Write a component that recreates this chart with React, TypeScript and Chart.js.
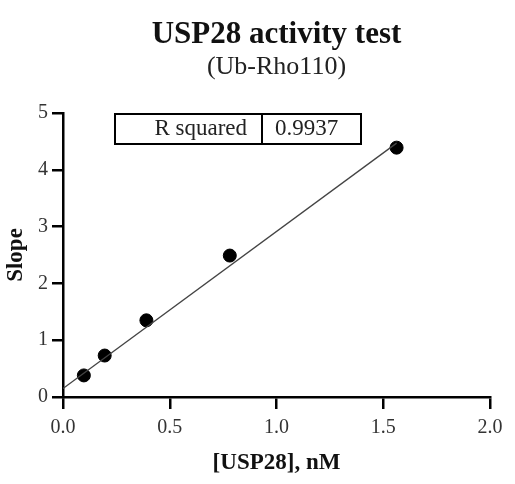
import { useEffect, useRef } from 'react'
import Chart from 'chart.js/auto'

const concentrations = [0.0977, 0.1953, 0.3906, 0.7813, 1.5625]
const slopes = [0.38, 0.73, 1.35, 2.49, 4.39]
const fitX = [0, 1.5625]
const fitY = [0.15, 4.47]
const xTicks = [0, 0.5, 1.0, 1.5, 2.0]
const yTicks = [0, 1, 2, 3, 4, 5]
const rSquared = '0.9937'

const SERIF = '"Liberation Serif", "Times New Roman", serif'

export default function App() {
  const chartRef = useRef<HTMLCanvasElement>(null)

  useEffect(() => {
    document.body.style.margin = '0'
    if (!chartRef.current) return

    // title, subtitle and the R squared box
    const extras = {
      id: 'extras',
      afterDraw(chart: any) {
        const { ctx, chartArea } = chart
        const cx = (chartArea.left + chartArea.right) / 2
        ctx.save()
        ctx.fillStyle = '#111'
        ctx.textAlign = 'center'
        ctx.textBaseline = 'alphabetic'
        ctx.font = `bold 31px ${SERIF}`
        ctx.fillText('USP28 activity test', cx, 43)
        ctx.fillStyle = '#222'
        ctx.font = `26px ${SERIF}`
        ctx.fillText('(Ub-Rho110)', cx, 74)

        const x0 = chartArea.left + 52
        const x1 = chartArea.left + 199
        const x2 = chartArea.left + 298
        const y0 = chartArea.top + 1
        const y1 = chartArea.top + 31
        ctx.strokeStyle = '#000'
        ctx.lineWidth = 2
        ctx.strokeRect(x0, y0, x2 - x0, y1 - y0)
        ctx.beginPath()
        ctx.moveTo(x1, y0)
        ctx.lineTo(x1, y1)
        ctx.stroke()
        ctx.font = `23px ${SERIF}`
        ctx.fillStyle = '#222'
        ctx.textAlign = 'right'
        ctx.fillText('R squared', x1 - 15, y1 - 9)
        ctx.textAlign = 'left'
        ctx.fillText(rSquared, x1 + 13, y1 - 9)
        ctx.restore()
      }
    }

    const chart = new Chart(chartRef.current, {
      type: 'scatter',
      data: {
        datasets: [
          {
            data: fitX.map((x, i) => ({ x, y: fitY[i] })),
            showLine: true,
            borderColor: '#444',
            borderWidth: 1.3,
            pointRadius: 0
          },
          {
            data: concentrations.map((x, i) => ({ x, y: slopes[i] })),
            backgroundColor: '#000',
            borderColor: '#000',
            pointRadius: 6.5,
            showLine: false
          }
        ]
      },
      options: {
        animation: false,
        responsive: false,
        layout: { padding: { top: 113, right: 25, left: 0, bottom: 0 } },
        plugins: {
          legend: { display: false },
          tooltip: { enabled: false }
        },
        scales: {
          x: {
            type: 'linear',
            min: 0,
            max: 2,
            afterBuildTicks: (scale: any) => {
              scale.ticks = xTicks.map((value) => ({ value }))
            },
            afterFit: (scale: any) => {
              scale.height = 87
            },
            ticks: {
              color: '#333',
              font: { family: SERIF, size: 20 },
              padding: 7,
              maxRotation: 0,
              callback: (v: any) => Number(v).toFixed(1)
            },
            grid: {
              drawOnChartArea: false,
              drawTicks: true,
              tickLength: 12,
              color: '#000',
              lineWidth: 2.5
            },
            border: { color: '#000', width: 2.5 },
            title: {
              display: true,
              text: '[USP28], nM',
              color: '#111',
              font: { family: SERIF, size: 23, weight: 'bold' },
              padding: { top: 0, bottom: 7 }
            }
          },
          y: {
            type: 'linear',
            min: 0,
            max: 5,
            afterBuildTicks: (scale: any) => {
              scale.ticks = yTicks.map((value) => ({ value }))
            },
            afterFit: (scale: any) => {
              scale.width = 63
            },
            ticks: {
              color: '#333',
              font: { family: SERIF, size: 20 },
              padding: 4
            },
            grid: {
              drawOnChartArea: false,
              drawTicks: true,
              tickLength: 11,
              color: '#000',
              lineWidth: 2.5
            },
            border: { color: '#000', width: 2.5 },
            title: {
              display: true,
              text: 'Slope',
              color: '#111',
              font: { family: SERIF, size: 23, weight: 'bold' },
              padding: { top: 2, bottom: 0 }
            }
          }
        }
      },
      plugins: [extras]
    })

    return () => chart.destroy()
  }, [])

  return (
    <div style={{ width: 515, height: 484, background: '#fff' }}>
      <canvas ref={chartRef} width={515} height={484}></canvas>
    </div>
  )
}
